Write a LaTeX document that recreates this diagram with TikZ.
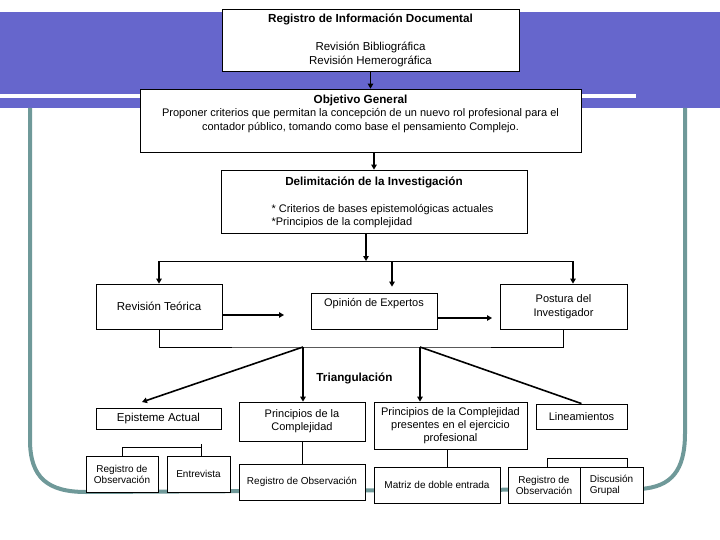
\documentclass[tikz,border=0pt]{standalone}
\usepackage{fontspec}
\setmainfont{Liberation Sans}
\usetikzlibrary{arrows.meta, positioning, calc}

\definecolor{bandblue}{HTML}{6666CC}
\definecolor{railteal}{HTML}{6F9999}

\newcommand{\hd}[1]{{\fontsize{11.7}{14}\selectfont\bfseries #1}}

\tikzset{
  box/.style={draw, line width=0.8pt, fill=white, inner sep=0pt, align=center},
  ttl/.style={font=\fontsize{11.7}{14}\selectfont\bfseries},
  txt/.style={font=\fontsize{11}{13}\selectfont},
  sml/.style={font=\fontsize{10}{11}\selectfont},
  arr/.style={-{Triangle[length=5pt,width=5.5pt]}, line width=1.6pt},
  wire/.style={line width=0.8pt},
}

\begin{document}
\begin{tikzpicture}[x=1pt,y=-1pt]
\useasboundingbox (0,0) rectangle (720,540);

% --- BACKGROUND ---
\fill[bandblue] (0,12) rectangle (720,108);
\fill[white] (0,94) rectangle (636,98);
\draw[railteal, line width=4pt] (30,108) -- (30,440)
  .. controls (30,478) and (48,492) .. (86,492) -- (640,489)
  .. controls (672,487) and (685,470) .. (685,433) -- (685,108);

% --- TOP BOXES ---
\node[box, minimum width=297, minimum height=62, font=\fontsize{11.5}{14}\selectfont] (reg) at (370.5,40)
  {\hd{Registro de Información Documental}\\[14pt]Revisión Bibliográfica\\Revisión Hemerográfica};

\node[box, minimum width=441, minimum height=63] (obj) at (360.5,120.5) {};
\node[align=center, font=\fontsize{11}{13.5}\selectfont] (objtxt) at (360.5,113.5)
  {\hd{Objetivo General}\\Proponer criterios que permitan la concepción de un nuevo rol profesional para el\\contador público, tomando como base el pensamiento Complejo.};

\node[box, minimum width=306, minimum height=63] (delim) at (374,201.5) {};
\node[ttl] (delimttl) at (374,182) {Delimitación de la Investigación};
\node[anchor=west, align=left, font=\fontsize{11}{13}\selectfont] (delimtxt) at (268,216.5)
  {* Criterios de bases epistemológicas actuales\\*Principios de la complejidad};

% --- MIDDLE ROW ---
\node[box, minimum width=126, minimum height=45, font=\fontsize{11.5}{13}\selectfont] (rev) at (159,306.5) {Revisión Teórica};
\node[box, minimum width=126, minimum height=36] (opi) at (374,311) {};
\node[txt] (opitxt) at (374,304) {Opinión de Expertos};
\node[box, minimum width=127, minimum height=45, font=\fontsize{11}{14}\selectfont] (pos) at (563.5,306.5) {Postura del\\Investigador};

\node[ttl] (tri) at (354.5,378) {Triangulación};

% --- LOWER ROW ---
\node[box, minimum width=125, minimum height=21, font=\fontsize{11.5}{13}\selectfont] (epi) at (158.5,418.5) {Episteme Actual};
\node[box, txt, minimum width=126, minimum height=39] (pc) at (302,421.5) {Principios de la\\Complejidad};
\node[box, txt, minimum width=153, minimum height=47] (pp) at (450.5,425.5) {Principios de la Complejidad\\presentes en el ejercicio\\profesional};
\node[box, txt, minimum width=91, minimum height=25] (lin) at (581.5,416.5) {Lineamientos};

% --- BOTTOM ROW ---
\node[box, sml, minimum width=72, minimum height=36] (ro1) at (122,474) {Registro de\\Observación};
\node[box, sml, minimum width=63, minimum height=36] (ent) at (198.5,474) {Entrevista};
\node[box, sml, minimum width=126, minimum height=36] (ro2) at (302,482) {Registro de Observación};
\node[box, sml, minimum width=126, minimum height=36] (mat) at (437,485) {Matriz de doble entrada};
\node[box, sml, minimum width=72, minimum height=36] (ro3) at (544,485) {Registro de\\Observación};
\node[box, sml, minimum width=63, minimum height=36, align=left] (dis) at (611.5,485) {Discusión\\Grupal};

% --- CONNECTORS ---
\coordinate (busL) at (159,261);
\coordinate (busR) at (573,261);
\coordinate (busIn) at (366,261);
\coordinate (busMid) at (392,261);
\coordinate (revTip) at (284,315);
\coordinate (opiTip) at (492,318);
\coordinate (f1) at (303,347);
\coordinate (f2) at (420,347);
\coordinate (epiTip) at (142,402);
\coordinate (ppd) at (447,449);
\coordinate (brk1) at (201,447);
\coordinate (brk2a) at (547,458);
\coordinate (brk2b) at (627,458);

\draw[arr] (reg.south) -- (reg.south |- obj.north);
\draw[arr] (obj.south -| delim.north) -- (delim.north);
\draw[arr] (delim.south -| busIn) -- (busIn);
\draw[wire] (busL) -- (busR);
\draw[arr] (busL) -- (busL |- rev.north);
\draw[arr, shorten >=6pt] (busMid) -- (busMid |- opi.north);
\draw[arr] (busR) -- (busR |- pos.north);
\draw[arr, line width=2.4pt] (rev.east |- revTip) -- (revTip);
\draw[arr, line width=2.4pt] (opi.east |- opiTip) -- (opiTip);

\draw[wire] (rev.south) |- (f1) -- (f2) -| (pos.south);
\draw[arr] (f1) -- (epiTip);
\draw[arr] (f1) -- (f1 |- pc.north);
\draw[arr] (f2) -- (f2 |- pp.north);
\draw[line width=1.6pt] (f2) -- (lin.north);

\draw[wire] (pc.south) -- (pc.south |- ro2.north);
\draw[wire] (ppd) -- (ppd |- mat.north);
\draw[wire] (ro1.north) |- (brk1);
\draw[wire] (brk1 |- ent.north) -- ++(0,-12);
\draw[wire] (brk2a |- ro3.north) -- (brk2a) -- (brk2b) -- (brk2b |- dis.north);

\end{tikzpicture}
\end{document}
